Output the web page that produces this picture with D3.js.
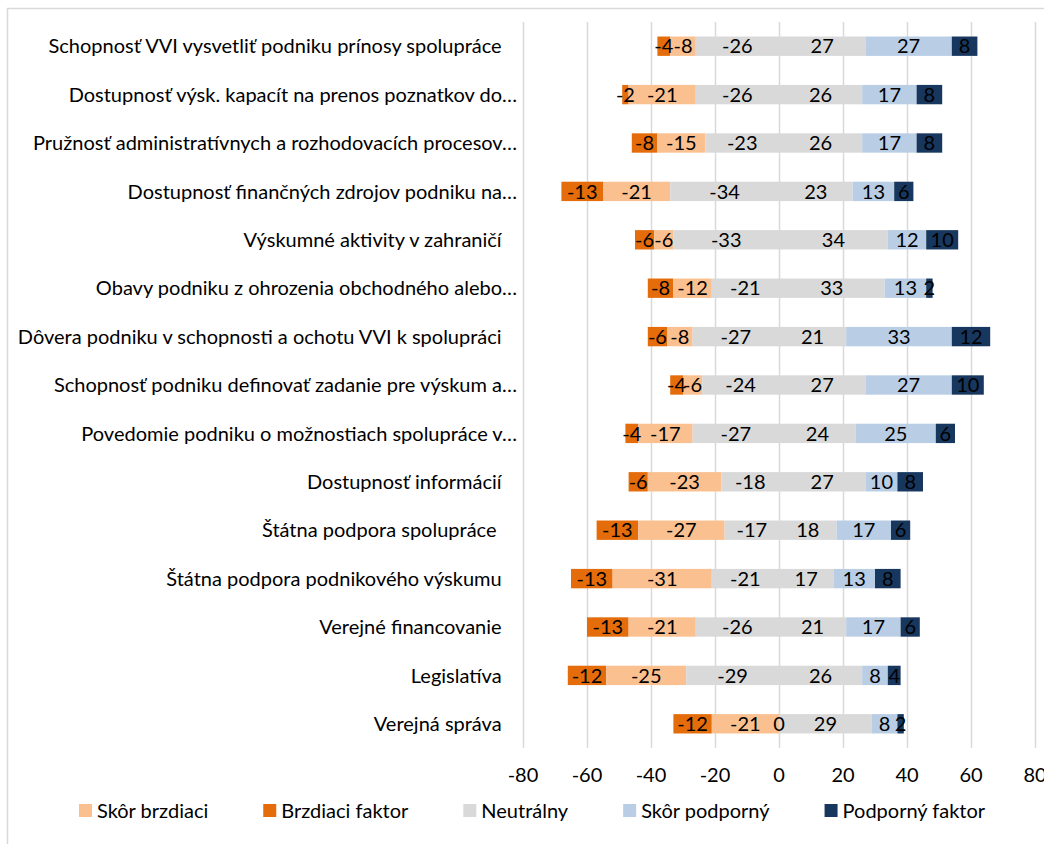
<!DOCTYPE html>
<html>
<head>
<meta charset="utf-8">
<script src="https://cdn.jsdelivr.net/npm/d3@7"></script>
<style>
  body { margin: 0; background: #fff; }
  text { font-family: Lato, "Open Sans", sans-serif; fill: #000; }
</style>
</head>
<body>
<div id="chart"></div>
<script>
// categories, top to bottom (trailing spaces kept as in source labels)
var categories = [
  "Schopnosť VVI vysvetliť podniku prínosy spolupráce   ",
  "Dostupnosť výsk. kapacít na prenos poznatkov do…",
  "Pružnosť administratívnych a rozhodovacích procesov…",
  "Dostupnosť finančných zdrojov podniku na…",
  "Výskumné aktivity v zahraničí   ",
  "Obavy podniku z ohrozenia obchodného alebo…",
  "Dôvera podniku v schopnosti a ochotu VVI k spolupráci   ",
  "Schopnosť podniku definovať zadanie pre výskum a…",
  "Povedomie podniku o možnostiach spolupráce v…",
  "Dostupnosť informácií   ",
  "Štátna podpora spolupráce    ",
  "Štátna podpora podnikového výskumu   ",
  "Verejné financovanie   ",
  "Legislatíva   ",
  "Verejná správa   "
];

var brzdiaci     = [-4, -2, -8, -13, -6, -8, -6, -4, -4, -6, -13, -13, -13, -12, -12];
var skorBrzdiaci = [-8, -21, -15, -21, -6, -12, -8, -6, -17, -23, -27, -31, -21, -25, -21];
var neutralNeg   = [-26, -26, -23, -34, -33, -21, -27, -24, -27, -18, -17, -21, -26, -29, 0];
var neutralPos   = [27, 26, 26, 23, 34, 33, 21, 27, 24, 27, 18, 17, 21, 26, 29];
var skorPodporny = [27, 17, 17, 13, 12, 13, 33, 27, 25, 10, 17, 13, 17, 8, 8];
var podporny     = [8, 8, 8, 6, 10, 2, 12, 10, 6, 8, 6, 8, 6, 4, 2];

var xTicks = [-80, -60, -40, -20, 0, 20, 40, 60, 80];

var legendNames = ["Skôr brzdiaci", "Brzdiaci faktor", "Neutrálny", "Skôr podporný", "Podporný faktor"];

var cOrangeDark = "#E46C0A",
  cOrangeLight = "#FAC090",
  cGrey = "#D9D9D9",
  cBlueLight = "#B9CDE5",
  cBlueDark = "#17375E";

// left-to-right segment order
var series = [
  { values: brzdiaci, color: cOrangeDark },
  { values: skorBrzdiaci, color: cOrangeLight },
  { values: neutralNeg, color: cGrey },
  { values: neutralPos, color: cGrey },
  { values: skorPodporny, color: cBlueLight },
  { values: podporny, color: cBlueDark }
];
var legendColors = [cOrangeLight, cOrangeDark, cGrey, cBlueLight, cBlueDark];

var w = 1044, h = 844;
var plotLeft = 523, plotRight = 1035, plotTop = 22, plotBottom = 748;
var fs = "20px";

var svg = d3.select("#chart").append("svg").attr("width", w).attr("height", h);

// outer chart border
svg.append("rect")
  .attr("x", 7.5).attr("y", 8.5)
  .attr("width", w).attr("height", h)
  .attr("fill", "none")
  .attr("stroke", "#D9D9D9")
  .attr("stroke-width", 1.5);

var x = d3.scaleLinear().domain([-80, 80]).range([plotLeft, plotRight]);
var y = d3.scaleBand().domain(d3.range(categories.length)).range([plotTop, plotBottom]).paddingInner(0.6).paddingOuter(0.3);

// gridlines
svg.append("g")
  .selectAll("line")
  .data(xTicks)
  .enter()
  .append("line")
  .attr("x1", function (d) { return Math.round(x(d)) + 0.5; })
  .attr("x2", function (d) { return Math.round(x(d)) + 0.5; })
  .attr("y1", plotTop)
  .attr("y2", plotBottom)
  .attr("stroke", "#D9D9D9")
  .attr("stroke-width", 1.5);

// build segments
var segments = [];
categories.forEach(function (c, i) {
  var start = 0;
  for (var s = 0; s < 3; s++) start += series[s].values[i];
  var pos = start;
  series.forEach(function (ser) {
    var v = ser.values[i];
    var len = Math.abs(v);
    segments.push({ row: i, x0: pos, x1: pos + len, value: v, color: ser.color });
    pos += len;
  });
});

svg.append("g")
  .selectAll("rect")
  .data(segments)
  .enter()
  .append("rect")
  .attr("x", function (d) { return x(d.x0); })
  .attr("y", function (d) { return y(d.row); })
  .attr("width", function (d) { return x(d.x1) - x(d.x0); })
  .attr("height", y.bandwidth())
  .attr("fill", function (d) { return d.color; });

// data labels
svg.append("g")
  .selectAll("text")
  .data(segments)
  .enter()
  .append("text")
  .attr("x", function (d) { return x((d.x0 + d.x1) / 2); })
  .attr("y", function (d) { return y(d.row) + y.bandwidth() / 2; })
  .attr("dy", "0.36em")
  .attr("text-anchor", "middle")
  .style("font-size", fs)
  .text(function (d) { return d.value; });

// category labels
svg.append("g")
  .selectAll("text")
  .data(categories)
  .enter()
  .append("text")
  .attr("x", plotLeft - 6)
  .attr("y", function (d, i) { return y(i) + y.bandwidth() / 2; })
  .attr("dy", "0.36em")
  .attr("text-anchor", "end")
  .style("white-space", "pre")
  .style("font-size", fs)
  .text(function (d) { return d; });

// x tick labels
svg.append("g")
  .selectAll("text")
  .data(xTicks)
  .enter()
  .append("text")
  .attr("x", function (d) { return x(d); })
  .attr("y", 775)
  .attr("dy", "0.36em")
  .attr("text-anchor", "middle")
  .style("font-size", fs)
  .text(function (d) { return d; });

// legend
var legend = svg.append("g");
var lx = 79;
legendNames.forEach(function (name, i) {
  legend.append("rect")
    .attr("x", lx).attr("y", 804)
    .attr("width", 13).attr("height", 13)
    .attr("fill", legendColors[i]);
  var t = legend.append("text")
    .attr("x", lx + 18).attr("y", 810.5)
    .attr("dy", "0.36em")
    .style("font-size", fs)
    .text(name);
  lx += 18 + t.node().getComputedTextLength() + 55;
});
</script>
</body>
</html>
